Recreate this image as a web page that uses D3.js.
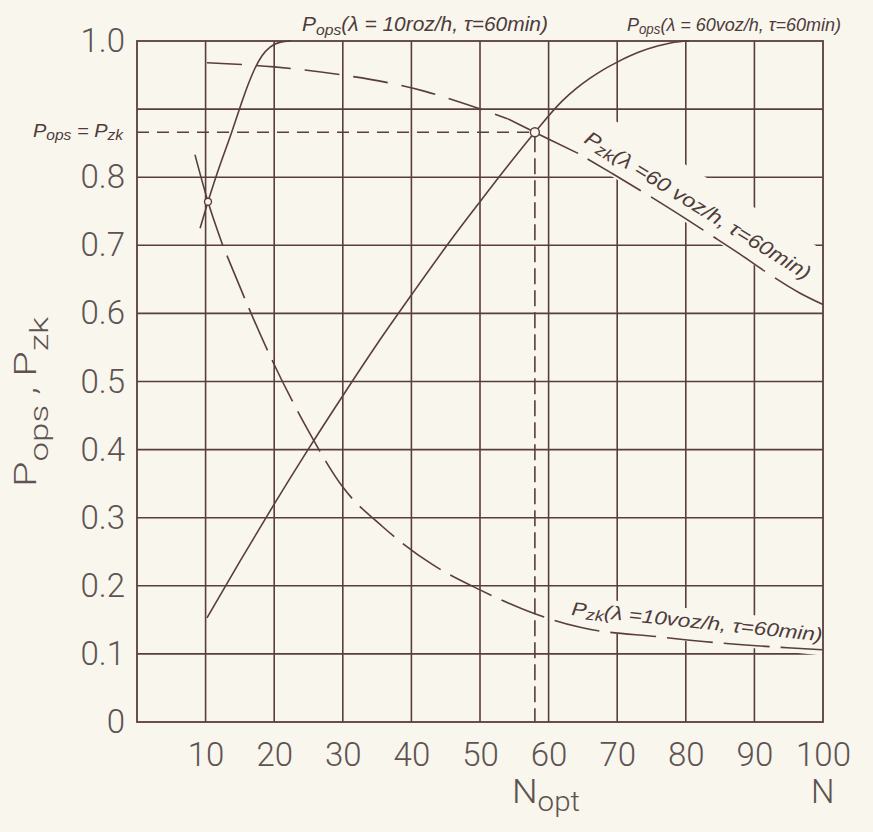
<!DOCTYPE html>
<html><head><meta charset="utf-8">
<script src="https://cdn.jsdelivr.net/npm/d3@7"></script>
<style>
html,body{margin:0;padding:0;background:#f8f6ed;}
svg{display:block;}
</style></head><body>
<svg id="c" width="873" height="832"></svg>
<script>
// ---------------- data ----------------
const xTicks = [10,20,30,40,50,60,70,80,90,100];
const yTicks = [0,0.1,0.2,0.3,0.4,0.5,0.6,0.7,0.8,1.0];
const xGrid = [10,20,30,40,50,60,70,80,90];
const yGrid = [0.1,0.2,0.3,0.4,0.5,0.6,0.7,0.8,0.9];

// P_ops (lambda = 10 voz/h, tau = 60 min)
const popsL10N = [9.2,10.35,11.7,13.8,15.0,16.2,17.2,18.2,19.4,20.8,22.5];
const popsL10P = [0.725,0.764,0.806,0.866,0.902,0.936,0.960,0.978,0.991,0.998,1.0];
// P_zk (lambda = 10 voz/h, tau = 60 min)
const pzkL10N = [8.45,10.35,12.5,19.8,24.9,30.0,35.9,43.1,50.0,57.7,64.6,76.2,85.0,94.8,100];
const pzkL10P = [0.833,0.764,0.700,0.529,0.429,0.345,0.286,0.231,0.194,0.160,0.139,0.125,0.116,0.109,0.106];
// P_ops (lambda = 60 voz/h, tau = 60 min)
const popsL60N = [10.2,15,20,25,30,35,40,46,50,54,58,62,64,66,68,70,73,76,79,80.5];
const popsL60P = [0.153,0.236,0.320,0.401,0.479,0.555,0.627,0.711,0.764,0.816,0.866,0.912,0.930,0.945,0.958,0.969,0.983,0.993,0.999,1.0];
// P_zk (lambda = 60 voz/h, tau = 60 min)
const pzkL60N = [10.2,20,30,36,42,48,54,58,60.2,64.3,69.0,73.8,78.6,83.5,87.9,91.5,96.6,100];
const pzkL60P = [0.968,0.962,0.950,0.940,0.926,0.907,0.886,0.866,0.855,0.835,0.807,0.778,0.748,0.716,0.687,0.662,0.630,0.613];

// intersections / optimum
const crossLow = {n:10.35, p:0.764};
const nOpt = 58.0;
const pOpt = 0.866;

// ---------------- setup ----------------
const W = 873, H = 832;
const ink = '#5a3d3d';
const txt = '#5e5352';
const bg = '#f8f6ed';
const tickFont = "Roboto,'DejaVu Sans Condensed',sans-serif";
const handFont = "'Liberation Sans','DejaVu Sans',sans-serif";

const svg = d3.select('#c');
svg.append('rect').attr('width',W).attr('height',H).attr('fill',bg);

const x = d3.scaleLinear().domain([0,100]).range([137,823]);
const y = d3.scaleLinear().domain([0,1]).range([722,41]);

const gGrid = svg.append('g');
const gMask = svg.append('g');
const gBorder = svg.append('g');
const gCurves = svg.append('g');
const gLabels = svg.append('g');

// grid
gGrid.selectAll('line.v').data(xGrid).join('line').attr('class','v')
  .attr('x1',d=>x(d)).attr('x2',d=>x(d)).attr('y1',y(0)).attr('y2',y(1))
  .attr('stroke',ink).attr('stroke-width',1.6);
gGrid.selectAll('line.h').data(yGrid).join('line').attr('class','h')
  .attr('x1',x(0)).attr('x2',x(100)).attr('y1',d=>y(d)).attr('y2',d=>y(d))
  .attr('stroke',ink).attr('stroke-width',1.6);

gBorder.append('rect').attr('x',x(0)).attr('y',y(1))
  .attr('width',x(100)-x(0)).attr('height',y(0)-y(1))
  .attr('fill','none').attr('stroke',ink).attr('stroke-width',1.8);

// axes
const ax = svg.append('g').attr('transform',`translate(0,${y(0)})`)
  .call(d3.axisBottom(x).tickValues(xTicks).tickSize(0).tickPadding(21).tickFormat(d3.format('d')));
ax.select('.domain').remove();
ax.selectAll('text').attr('font-size',33).attr('font-family',tickFont).attr('font-weight',300).attr('fill',txt);

const ay = svg.append('g').attr('transform',`translate(${x(0)},0)`)
  .call(d3.axisLeft(y).tickValues(yTicks).tickSize(0).tickPadding(12)
    .tickFormat(d=> d===0 ? '0' : d.toFixed(1)));
ay.select('.domain').remove();
ay.selectAll('text').attr('font-size',33).attr('font-family',tickFont).attr('font-weight',300).attr('fill',txt);

// helper: text with subscripts
function richText(g, parts, o){
  const t = g.append('text')
    .attr('transform',o.transform)
    .attr('font-family',o.font).attr('font-size',o.size)
    .attr('font-style',o.italic?'italic':'normal')
    .attr('font-weight',o.weight||'normal')
    .attr('fill',o.fill||txt);
  let shifted = 0;
  parts.forEach(p=>{
    const ts = t.append('tspan').text(p.t);
    const want = p.sub ? o.subDy : 0;
    if (want !== shifted){ ts.attr('dy', want - shifted); shifted = want; }
    if (p.sub) ts.attr('font-size', o.subSize);
  });
  if (o.len) t.attr('textLength',o.len).attr('lengthAdjust','spacingAndGlyphs');
  return t;
}
function maskFor(t, padL, padR, padT, padB){
  const b = t.node().getBBox();
  gMask.append('rect').attr('transform',t.attr('transform'))
    .attr('x',b.x-padL).attr('y',b.y-padT)
    .attr('width',b.width+padL+padR).attr('height',b.height+padT+padB)
    .attr('fill',bg);
}

// curves
const line = d3.line().x(d=>x(d[0])).y(d=>y(d[1])).curve(d3.curveMonotoneX);
const zipP = (a,b)=>a.map((v,i)=>[v,b[i]]);
function drawCurve(pts, dash, offset){
  const p = gCurves.append('path').attr('d',line(pts)).attr('fill','none')
    .attr('stroke',ink).attr('stroke-width',1.6).attr('stroke-linecap','butt');
  if (dash) p.attr('stroke-dasharray',dash);
  if (offset) p.attr('stroke-dashoffset',offset);
  return p;
}
const popsL10 = zipP(popsL10N,popsL10P);
const pzkL10 = zipP(pzkL10N,pzkL10P);
const popsL60 = zipP(popsL60N,popsL60P);
const pzkL60 = zipP(pzkL60N,pzkL60P);

drawCurve(popsL10);
drawCurve(pzkL10.slice(0,3));
drawCurve(pzkL10.slice(2),'46,11',46);
drawCurve(popsL60);
drawCurve(pzkL60.slice(0,7),'35,14');
drawCurve(pzkL60.slice(6,10));
drawCurve(pzkL60.slice(9),'62,12',63);

// optimum dashed guides
gCurves.append('line').attr('x1',x(0)).attr('x2',x(nOpt)).attr('y1',y(pOpt)).attr('y2',y(pOpt))
  .attr('stroke',ink).attr('stroke-width',1.6).attr('stroke-dasharray','12,8');
gCurves.append('line').attr('x1',x(nOpt)).attr('x2',x(nOpt)).attr('y1',y(pOpt)+4).attr('y2',y(0))
  .attr('stroke',ink).attr('stroke-width',1.6).attr('stroke-dasharray','16,6');

// intersection circles
gCurves.append('circle').attr('cx',x(crossLow.n)).attr('cy',y(crossLow.p)).attr('r',3.5)
  .attr('fill',bg).attr('stroke',ink).attr('stroke-width',1.4);
gCurves.append('circle').attr('cx',x(nOpt)).attr('cy',y(pOpt)).attr('r',4.5)
  .attr('fill',bg).attr('stroke',ink).attr('stroke-width',1.4);

// handwritten labels
const hand = {font:handFont, italic:true, fill:'#4f3b3b'};
richText(gLabels,[{t:'P'},{t:'ops',sub:true},{t:'(λ = 10roz/h, τ=60min)'}],
  Object.assign({},hand,{transform:'translate(302,31)',size:20,subSize:15,subDy:4,len:246}));
richText(gLabels,[{t:'P'},{t:'ops',sub:true},{t:'(λ = 60voz/h, τ=60min)'}],
  Object.assign({},hand,{transform:'translate(627,31)',size:19,subSize:14,subDy:3,len:214}));
const l3 = richText(gLabels,[{t:'P'},{t:'zk',sub:true},{t:'(λ =60 voz/h, τ=60min)'}],
  Object.assign({},hand,{transform:'translate(583,142) rotate(31.9)',size:20,subSize:16,subDy:3,len:262}));
maskFor(l3, 2, 4, 17, 8);
const l4 = richText(gLabels,[{t:'P'},{t:'zk',sub:true},{t:'(λ =10voz/h, τ=60min)'}],
  Object.assign({},hand,{transform:'translate(571,615) rotate(6)',size:19,subSize:15,subDy:3,len:252}));
maskFor(l4, 2, 2, 2, 8);
richText(gLabels,[{t:'P'},{t:'ops',sub:true},{t:' = P'},{t:'zk',sub:true}],
  Object.assign({},hand,{transform:'translate(33,137)',size:18,subSize:14,subDy:3,len:90}));

// axis titles
richText(gLabels,[{t:'P'},{t:'ops',sub:true},{t:' , P'},{t:'zk',sub:true}],
  {font:tickFont,weight:300,size:31,subSize:26,subDy:12,transform:'translate(36,487) rotate(-90)',len:170,fill:txt});
richText(gLabels,[{t:'N'},{t:'opt',sub:true}],
  {font:tickFont,weight:300,size:33,subSize:27,subDy:8,transform:'translate(512,803)',len:68,fill:txt});
richText(gLabels,[{t:'N'}],
  {font:tickFont,weight:300,size:33,transform:'translate(811,803)',fill:txt});
</script>
</body></html>
